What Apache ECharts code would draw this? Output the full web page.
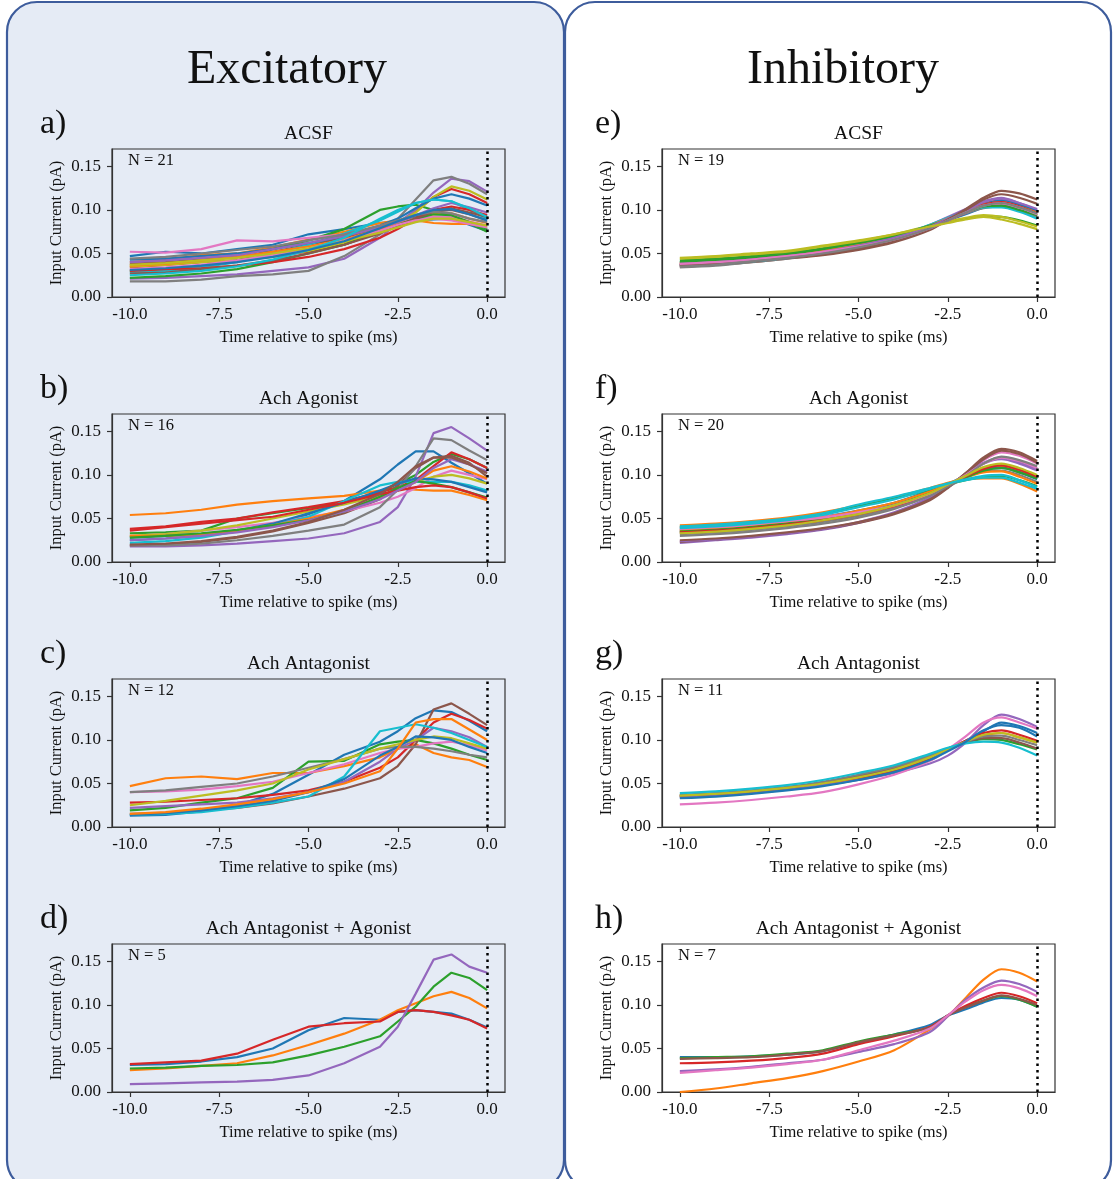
<!DOCTYPE html>
<html>
<head>
<meta charset="utf-8">
<script src="https://cdn.jsdelivr.net/npm/echarts@6/dist/echarts.min.js"></script>
<style>
html,body{margin:0;padding:0;background:#fff;}
#chart{width:1113px;height:1179px;}
</style>
</head>
<body>
<div id="chart"></div>
<script>
// ---------- DATA ----------
const timeMs = [-10,-9,-8,-7,-6,-5,-4,-3,-2.5,-2,-1.5,-1,-0.5,0];
const xTicks = [-10,-7.5,-5,-2.5,0];
const yTicks = [0,0.05,0.10,0.15];
const mainTitles = ["Excitatory","Inhibitory"];
const panelLetters = ["a)","b)","c)","d)","e)","f)","g)","h)"];
const conditions = ["ACSF","Ach Agonist","Ach Antagonist","Ach Antagonist + Agonist","ACSF","Ach Agonist","Ach Antagonist","Ach Antagonist + Agonist"];
const counts = [21,16,12,5,19,20,11,7];
const palette = ["#1f77b4","#ff7f0e","#2ca02c","#d62728","#9467bd","#8c564b","#e377c2","#7f7f7f","#bcbd22","#17becf"];

const excACSF = [
[0.047,0.052,0.050,0.055,0.060,0.072,0.078,0.085,0.087,0.088,0.089,0.090,0.083,0.076],
[0.040,0.043,0.048,0.050,0.057,0.066,0.075,0.085,0.088,0.092,0.095,0.096,0.090,0.085],
[0.030,0.032,0.035,0.042,0.055,0.065,0.078,0.100,0.104,0.106,0.100,0.093,0.085,0.075],
[0.034,0.037,0.040,0.042,0.047,0.052,0.060,0.075,0.085,0.098,0.115,0.124,0.118,0.108],
[0.021,0.022,0.024,0.026,0.030,0.034,0.044,0.068,0.085,0.100,0.120,0.136,0.133,0.121],
[0.038,0.040,0.043,0.046,0.052,0.060,0.068,0.080,0.086,0.092,0.098,0.100,0.095,0.088],
[0.052,0.051,0.055,0.065,0.064,0.068,0.072,0.080,0.085,0.090,0.092,0.092,0.087,0.082],
[0.018,0.018,0.020,0.024,0.026,0.030,0.047,0.072,0.090,0.112,0.134,0.138,0.130,0.118],
[0.035,0.037,0.040,0.042,0.046,0.053,0.062,0.076,0.085,0.097,0.115,0.127,0.122,0.112],
[0.028,0.030,0.034,0.040,0.050,0.060,0.073,0.088,0.098,0.108,0.112,0.110,0.100,0.090],
[0.043,0.044,0.047,0.050,0.055,0.062,0.070,0.082,0.090,0.102,0.113,0.118,0.113,0.105],
[0.036,0.038,0.042,0.046,0.052,0.058,0.066,0.078,0.085,0.088,0.085,0.084,0.084,0.080],
[0.022,0.024,0.027,0.032,0.040,0.050,0.060,0.075,0.083,0.090,0.095,0.094,0.086,0.078],
[0.030,0.032,0.033,0.036,0.040,0.046,0.055,0.068,0.078,0.090,0.100,0.104,0.100,0.094],
[0.040,0.042,0.045,0.048,0.055,0.062,0.070,0.080,0.086,0.094,0.102,0.108,0.103,0.097],
[0.027,0.028,0.032,0.036,0.042,0.050,0.060,0.073,0.082,0.090,0.098,0.102,0.097,0.092],
[0.032,0.034,0.037,0.042,0.048,0.056,0.065,0.076,0.083,0.088,0.090,0.088,0.084,0.080],
[0.044,0.046,0.050,0.054,0.058,0.065,0.072,0.082,0.088,0.094,0.098,0.096,0.090,0.086],
[0.037,0.039,0.042,0.045,0.050,0.056,0.064,0.074,0.080,0.086,0.090,0.090,0.086,0.082],
[0.025,0.027,0.030,0.035,0.043,0.054,0.068,0.090,0.100,0.108,0.112,0.110,0.102,0.092],
[0.031,0.033,0.036,0.040,0.046,0.054,0.064,0.079,0.087,0.094,0.100,0.101,0.095,0.088]
];
const excAgonist = [
[0.025,0.027,0.030,0.035,0.042,0.055,0.070,0.095,0.112,0.127,0.127,0.114,0.102,0.090],
[0.054,0.056,0.060,0.066,0.070,0.073,0.076,0.082,0.085,0.083,0.082,0.082,0.077,0.071],
[0.033,0.034,0.036,0.050,0.056,0.062,0.068,0.080,0.090,0.100,0.115,0.124,0.118,0.108],
[0.038,0.041,0.046,0.050,0.057,0.063,0.070,0.080,0.086,0.094,0.110,0.126,0.118,0.108],
[0.018,0.018,0.019,0.021,0.024,0.027,0.033,0.046,0.063,0.098,0.148,0.155,0.142,0.128],
[0.019,0.020,0.023,0.028,0.035,0.045,0.056,0.072,0.088,0.108,0.120,0.122,0.114,0.098],
[0.030,0.032,0.036,0.040,0.045,0.052,0.058,0.068,0.075,0.085,0.098,0.105,0.100,0.095],
[0.019,0.019,0.021,0.025,0.030,0.036,0.043,0.063,0.083,0.110,0.142,0.140,0.128,0.117],
[0.030,0.032,0.036,0.042,0.050,0.058,0.066,0.076,0.084,0.092,0.098,0.100,0.096,0.090],
[0.022,0.024,0.028,0.035,0.042,0.052,0.070,0.088,0.092,0.092,0.092,0.092,0.088,0.082],
[0.028,0.030,0.032,0.036,0.044,0.056,0.068,0.082,0.090,0.096,0.095,0.092,0.086,0.080],
[0.030,0.030,0.032,0.036,0.042,0.050,0.060,0.074,0.082,0.092,0.105,0.110,0.104,0.096],
[0.028,0.030,0.033,0.037,0.042,0.048,0.058,0.075,0.085,0.093,0.090,0.086,0.080,0.074],
[0.036,0.040,0.044,0.048,0.052,0.060,0.068,0.078,0.082,0.086,0.088,0.086,0.080,0.073],
[0.025,0.027,0.030,0.034,0.040,0.048,0.058,0.072,0.082,0.092,0.108,0.118,0.112,0.104],
[0.020,0.021,0.024,0.029,0.036,0.046,0.060,0.078,0.092,0.110,0.120,0.120,0.112,0.102]
];
const excAntagonist = [
[0.013,0.014,0.018,0.025,0.038,0.060,0.083,0.098,0.110,0.125,0.134,0.132,0.122,0.110],
[0.047,0.056,0.058,0.055,0.062,0.062,0.070,0.080,0.090,0.095,0.085,0.080,0.077,0.069],
[0.019,0.022,0.028,0.033,0.045,0.075,0.076,0.095,0.098,0.100,0.096,0.090,0.083,0.077],
[0.028,0.029,0.031,0.033,0.037,0.042,0.052,0.068,0.080,0.100,0.120,0.130,0.123,0.113],
[0.022,0.024,0.026,0.028,0.033,0.040,0.052,0.075,0.090,0.100,0.114,0.110,0.103,0.092],
[0.015,0.016,0.019,0.022,0.027,0.035,0.044,0.056,0.070,0.095,0.135,0.142,0.130,0.117],
[0.040,0.041,0.043,0.047,0.052,0.062,0.072,0.085,0.090,0.092,0.096,0.098,0.094,0.088],
[0.040,0.042,0.046,0.050,0.058,0.068,0.078,0.090,0.092,0.092,0.090,0.087,0.083,0.080],
[0.025,0.030,0.036,0.042,0.050,0.066,0.078,0.090,0.095,0.100,0.104,0.102,0.096,0.090],
[0.014,0.015,0.017,0.022,0.028,0.035,0.058,0.110,0.114,0.118,0.114,0.108,0.100,0.092],
[0.014,0.016,0.019,0.024,0.030,0.040,0.055,0.082,0.092,0.104,0.103,0.100,0.092,0.085],
[0.015,0.017,0.021,0.026,0.032,0.040,0.050,0.064,0.090,0.120,0.124,0.124,0.112,0.100]
];
const excBoth = [
[0.031,0.032,0.035,0.040,0.050,0.071,0.085,0.083,0.092,0.094,0.092,0.090,0.083,0.074],
[0.025,0.027,0.030,0.033,0.042,0.054,0.067,0.083,0.094,0.102,0.110,0.115,0.108,0.096],
[0.027,0.028,0.030,0.031,0.034,0.042,0.052,0.064,0.081,0.098,0.121,0.137,0.131,0.117],
[0.032,0.034,0.036,0.044,0.060,0.075,0.079,0.081,0.092,0.094,0.092,0.088,0.083,0.073],
[0.009,0.010,0.011,0.012,0.014,0.019,0.033,0.052,0.075,0.113,0.152,0.158,0.144,0.137]
];
const inhACSF = [
[0.040,0.042,0.045,0.049,0.055,0.062,0.071,0.082,0.088,0.095,0.103,0.108,0.104,0.096],
[0.038,0.040,0.043,0.047,0.052,0.059,0.068,0.081,0.089,0.097,0.104,0.107,0.102,0.094],
[0.042,0.044,0.047,0.051,0.056,0.063,0.071,0.081,0.086,0.090,0.093,0.092,0.088,0.082],
[0.036,0.038,0.041,0.045,0.050,0.057,0.066,0.080,0.089,0.098,0.107,0.111,0.106,0.098],
[0.037,0.039,0.042,0.046,0.051,0.058,0.068,0.083,0.092,0.101,0.110,0.114,0.108,0.100],
[0.035,0.037,0.040,0.044,0.048,0.054,0.063,0.077,0.089,0.101,0.114,0.122,0.119,0.112],
[0.038,0.040,0.043,0.047,0.052,0.058,0.067,0.080,0.089,0.097,0.104,0.106,0.101,0.093],
[0.034,0.036,0.040,0.044,0.050,0.057,0.067,0.080,0.088,0.096,0.102,0.104,0.099,0.092],
[0.045,0.047,0.050,0.053,0.059,0.065,0.072,0.082,0.087,0.091,0.094,0.092,0.087,0.081],
[0.036,0.038,0.041,0.045,0.051,0.059,0.069,0.083,0.091,0.098,0.103,0.103,0.098,0.090],
[0.037,0.039,0.042,0.046,0.051,0.058,0.067,0.080,0.088,0.097,0.106,0.111,0.106,0.099],
[0.039,0.041,0.044,0.048,0.053,0.060,0.069,0.082,0.090,0.098,0.106,0.109,0.104,0.097],
[0.040,0.042,0.045,0.049,0.055,0.062,0.070,0.082,0.089,0.097,0.104,0.105,0.100,0.094],
[0.037,0.039,0.042,0.046,0.051,0.057,0.066,0.079,0.088,0.097,0.106,0.109,0.104,0.096],
[0.038,0.040,0.043,0.047,0.052,0.059,0.068,0.081,0.090,0.099,0.109,0.113,0.108,0.101],
[0.036,0.038,0.041,0.045,0.049,0.055,0.064,0.078,0.089,0.100,0.112,0.118,0.114,0.107],
[0.038,0.040,0.043,0.047,0.052,0.058,0.066,0.079,0.088,0.097,0.105,0.108,0.103,0.095],
[0.035,0.037,0.041,0.045,0.050,0.057,0.066,0.079,0.088,0.097,0.105,0.108,0.103,0.096],
[0.044,0.046,0.049,0.052,0.058,0.064,0.072,0.081,0.085,0.089,0.092,0.089,0.084,0.078]
];
const inhAgonist = [
[0.038,0.040,0.043,0.047,0.052,0.059,0.068,0.082,0.090,0.099,0.106,0.110,0.104,0.096],
[0.042,0.044,0.047,0.051,0.057,0.065,0.074,0.085,0.091,0.095,0.096,0.096,0.090,0.081],
[0.040,0.042,0.045,0.049,0.055,0.064,0.073,0.083,0.089,0.094,0.098,0.099,0.094,0.087],
[0.036,0.038,0.041,0.045,0.050,0.057,0.066,0.080,0.089,0.098,0.106,0.110,0.105,0.098],
[0.022,0.025,0.028,0.032,0.037,0.045,0.056,0.073,0.086,0.100,0.113,0.118,0.113,0.105],
[0.023,0.026,0.029,0.033,0.038,0.045,0.055,0.071,0.085,0.102,0.120,0.130,0.126,0.116],
[0.040,0.042,0.045,0.048,0.052,0.058,0.066,0.078,0.088,0.100,0.117,0.126,0.122,0.113],
[0.032,0.034,0.037,0.041,0.046,0.053,0.062,0.076,0.086,0.097,0.104,0.105,0.100,0.092],
[0.034,0.036,0.039,0.043,0.048,0.056,0.066,0.080,0.089,0.099,0.108,0.111,0.106,0.099],
[0.041,0.043,0.046,0.050,0.056,0.066,0.075,0.085,0.090,0.094,0.097,0.097,0.091,0.084],
[0.035,0.037,0.040,0.044,0.049,0.056,0.066,0.080,0.089,0.098,0.106,0.108,0.103,0.095],
[0.037,0.039,0.042,0.046,0.051,0.059,0.068,0.081,0.089,0.097,0.103,0.104,0.098,0.090],
[0.035,0.037,0.040,0.044,0.049,0.056,0.065,0.079,0.088,0.097,0.105,0.108,0.103,0.096],
[0.034,0.036,0.039,0.043,0.048,0.055,0.064,0.078,0.088,0.098,0.107,0.111,0.106,0.098],
[0.024,0.026,0.029,0.033,0.038,0.046,0.057,0.074,0.087,0.101,0.114,0.120,0.115,0.107],
[0.025,0.027,0.030,0.034,0.039,0.046,0.056,0.072,0.086,0.102,0.118,0.128,0.124,0.114],
[0.038,0.040,0.043,0.047,0.051,0.057,0.065,0.078,0.088,0.100,0.113,0.120,0.116,0.108],
[0.030,0.032,0.035,0.039,0.044,0.051,0.061,0.076,0.087,0.099,0.113,0.121,0.117,0.110],
[0.033,0.035,0.038,0.042,0.048,0.055,0.065,0.079,0.089,0.099,0.109,0.113,0.108,0.100],
[0.039,0.041,0.044,0.048,0.054,0.063,0.072,0.084,0.090,0.095,0.099,0.100,0.094,0.086]
];
const inhAntagonist = [
[0.034,0.036,0.039,0.043,0.048,0.055,0.064,0.078,0.088,0.099,0.110,0.120,0.116,0.108],
[0.036,0.038,0.041,0.045,0.050,0.057,0.066,0.080,0.089,0.098,0.105,0.108,0.103,0.097],
[0.036,0.038,0.041,0.045,0.051,0.059,0.068,0.082,0.090,0.097,0.101,0.100,0.095,0.089],
[0.035,0.037,0.040,0.044,0.049,0.056,0.065,0.079,0.089,0.099,0.108,0.111,0.106,0.099],
[0.035,0.037,0.040,0.044,0.048,0.054,0.062,0.073,0.082,0.097,0.117,0.129,0.124,0.115],
[0.036,0.038,0.041,0.045,0.051,0.059,0.068,0.082,0.090,0.097,0.102,0.102,0.097,0.090],
[0.026,0.028,0.031,0.035,0.040,0.049,0.060,0.076,0.089,0.104,0.120,0.126,0.120,0.113],
[0.037,0.039,0.042,0.046,0.052,0.060,0.069,0.082,0.090,0.098,0.104,0.105,0.100,0.094],
[0.036,0.038,0.041,0.045,0.050,0.057,0.066,0.080,0.089,0.098,0.106,0.108,0.103,0.097],
[0.039,0.041,0.044,0.048,0.054,0.062,0.071,0.084,0.091,0.096,0.098,0.097,0.091,0.082],
[0.033,0.035,0.038,0.042,0.047,0.054,0.063,0.077,0.087,0.098,0.111,0.117,0.114,0.104]
];
const inhBoth = [
[0.040,0.040,0.041,0.043,0.047,0.057,0.066,0.077,0.088,0.095,0.103,0.108,0.106,0.098],
[0.000,0.004,0.010,0.016,0.024,0.035,0.048,0.072,0.087,0.108,0.129,0.141,0.137,0.127],
[0.039,0.040,0.041,0.044,0.048,0.058,0.066,0.074,0.088,0.098,0.105,0.110,0.106,0.098],
[0.033,0.034,0.036,0.039,0.044,0.055,0.064,0.075,0.088,0.099,0.108,0.114,0.110,0.102],
[0.024,0.026,0.029,0.033,0.037,0.046,0.055,0.069,0.087,0.106,0.120,0.128,0.124,0.115],
[0.038,0.039,0.040,0.043,0.047,0.057,0.065,0.074,0.088,0.097,0.105,0.111,0.107,0.100],
[0.022,0.025,0.028,0.032,0.037,0.048,0.059,0.073,0.088,0.104,0.117,0.123,0.119,0.110]
];
const panels = [excACSF, excAgonist, excAntagonist, excBoth, inhACSF, inhAgonist, inhAntagonist, inhBoth];

// ---------- LAYOUT ----------
const SERIF = '"Liberation Serif", "Times New Roman", serif';
const gridLefts = [112, 662];
const gridTops = [149, 414, 679, 944];
const GW = 393, GH = 148;

const grids = [], xAxes = [], yAxes = [], series = [], gfx = [];

gfx.push({type:'rect', z:-10, shape:{x:7, y:2, width:557, height:1188, r:30},
  style:{fill:'#e5ebf5', stroke:'#3d5c9c', lineWidth:2.2}});
gfx.push({type:'rect', z:-10, shape:{x:565, y:2, width:546, height:1188, r:30},
  style:{fill:'#ffffff', stroke:'#3d5c9c', lineWidth:2.2}});
mainTitles.forEach((t, c) => {
  gfx.push({type:'text', x: c === 0 ? 287 : 843, y: 70,
    style:{text:t, textAlign:'center', textVerticalAlign:'middle', font:'48px ' + SERIF, fill:'#111'}});
});

panels.forEach((lines, i) => {
  const col = i < 4 ? 0 : 1, row = i % 4;
  const L = gridLefts[col], T = gridTops[row];
  grids.push({left:L, top:T, width:GW, height:GH, show:true, borderColor:'#333', borderWidth:1.2, backgroundColor:'transparent'});
  xAxes.push({type:'value', gridIndex:i, min:-10.5, max:0.5,
    axisLine:{show:true, onZero:false, lineStyle:{color:'#333', width:1.2}},
    axisTick:{show:true, customValues:xTicks, length:5, lineStyle:{color:'#333', width:1.2}},
    axisLabel:{customValues:xTicks, formatter:v => v.toFixed(1), fontFamily:SERIF, fontSize:17, color:'#111', margin:9},
    splitLine:{show:false},
    name:'Time relative to spike (ms)', nameLocation:'middle', nameGap:32,
    nameTextStyle:{fontFamily:SERIF, fontSize:16.5, color:'#111'}});
  yAxes.push({type:'value', gridIndex:i, min:0, max:0.17,
    axisLine:{show:true, onZero:false, lineStyle:{color:'#333', width:1.2}},
    axisTick:{show:true, customValues:yTicks, length:5, lineStyle:{color:'#333', width:1.2}},
    axisLabel:{customValues:yTicks, formatter:v => v.toFixed(2), fontFamily:SERIF, fontSize:17, color:'#111', margin:11},
    splitLine:{show:false},
    name:'Input Current (pA)', nameLocation:'middle', nameGap:47,
    nameTextStyle:{fontFamily:SERIF, fontSize:16.5, color:'#111'}});
  lines.forEach((vals, j) => {
    const s = {type:'line', xAxisIndex:i, yAxisIndex:i, showSymbol:false, animation:false,
      smooth: col === 1 ? 0.3 : false,
      data: timeMs.map((x, k) => [x, vals[k]]),
      lineStyle:{width:2.2, color:palette[j % 10]}, itemStyle:{color:palette[j % 10]}, z:2};
    if (j === lines.length - 1) {
      s.markLine = {silent:true, symbol:'none', animation:false, label:{show:false},
        lineStyle:{type:[2.5, 4], color:'#000', width:2.5}, data:[{xAxis:0}]};
    }
    series.push(s);
  });
  gfx.push({type:'text', x: L + GW / 2, y: T - 15,
    style:{text:conditions[i], textAlign:'center', textVerticalAlign:'middle', font:'19.5px ' + SERIF, fill:'#111'}});
  gfx.push({type:'text', x: L + 16, y: T + 12,
    style:{text:'N = ' + counts[i], textAlign:'left', textVerticalAlign:'middle', font:'16.5px ' + SERIF, fill:'#111'}});
  gfx.push({type:'text', x: col === 0 ? 40 : 595, y: T - 25,
    style:{text:panelLetters[i], textAlign:'left', textVerticalAlign:'middle', font:'34px ' + SERIF, fill:'#111'}});
});

const chart = echarts.init(document.getElementById('chart'), null, {renderer:'canvas'});
chart.setOption({
  backgroundColor:'#ffffff',
  animation:false,
  grid:grids, xAxis:xAxes, yAxis:yAxes, series:series,
  graphic:{elements:gfx}
});
</script>
</body>
</html>
